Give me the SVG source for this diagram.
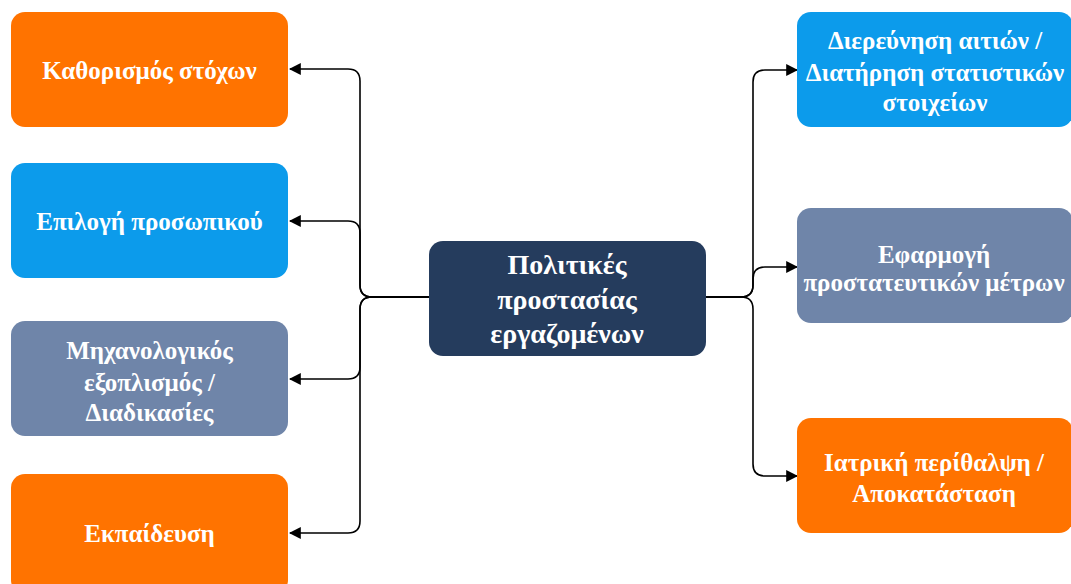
<svg xmlns="http://www.w3.org/2000/svg" width="1071" height="584" viewBox="0 0 1071 584">
<defs>
<style>
.orange{fill:#FF7300}
.blue{fill:#0C9BEB}
.slate{fill:#6F85A9}
.navy{fill:#253C5D}
.t{font-family:"Liberation Serif","DejaVu Serif",serif;font-weight:bold;font-size:25px;fill:#ffffff;text-anchor:middle;dominant-baseline:central}
.tc{font-size:28px}
.c{fill:none;stroke:#000;stroke-width:1.6}
</style>
<marker id="ah" viewBox="0 0 10 10" refX="9" refY="5" markerWidth="12" markerHeight="12" markerUnits="userSpaceOnUse" orient="auto">
<path d="M0,0 L10,5 L0,10 Z" fill="#000"/>
</marker>
</defs>
<rect width="1071" height="584" fill="#ffffff"/>
<g id="connectors">
<path class="c" marker-end="url(#ah)" d="M429,297 L372,297 Q360,297 360,285 L360,81 Q360,69 348,69 L290,69"/>
<path class="c" marker-end="url(#ah)" d="M429,297 L372,297 Q360,297 360,285 L360,233 Q360,221 348,221 L290,221"/>
<path class="c" marker-end="url(#ah)" d="M429,297 L372,297 Q360,297 360,309 L360,367 Q360,379 348,379 L290,379"/>
<path class="c" marker-end="url(#ah)" d="M429,297 L372,297 Q360,297 360,309 L360,521 Q360,533 348,533 L290,533"/>
<path class="c" marker-end="url(#ah)" d="M706,297 L741,297 Q753,297 753,285 L753,82 Q753,70 765,70 L797,70"/>
<path class="c" marker-end="url(#ah)" d="M706,297 L741,297 Q753,297 753,285 L753,279 Q753,267 765,267 L797,267"/>
<path class="c" marker-end="url(#ah)" d="M706,297 L741,297 Q753,297 753,309 L753,464 Q753,476 765,476 L797,476"/>
</g>
<g id="center">
<rect class="navy" x="429" y="241" width="277" height="115" rx="14"/>
<text class="t tc" x="567" y="264">Πολιτικές</text>
<text class="t tc" x="567" y="299">προστασίας</text>
<text class="t tc" x="567" y="333">εργαζομένων</text>
</g>
<g id="n1">
<rect class="orange" x="11" y="12" width="277" height="115" rx="14"/>
<text class="t" x="149.5" y="70">Καθορισμός στόχων</text>
</g>
<g id="n2">
<rect class="blue" x="11" y="163" width="277" height="115" rx="14"/>
<text class="t" x="149.5" y="221">Επιλογή προσωπικού</text>
</g>
<g id="n3">
<rect class="slate" x="11" y="321" width="277" height="115" rx="14"/>
<text class="t" x="149.5" y="350">Μηχανολογικός</text>
<text class="t" x="149.5" y="382">εξοπλισμός /</text>
<text class="t" x="149.5" y="412">Διαδικασίες</text>
</g>
<g id="n4">
<rect class="orange" x="11" y="474" width="277" height="120" rx="14"/>
<text class="t" x="149.5" y="533">Εκπαίδευση</text>
</g>
<g id="n5">
<rect class="blue" x="797" y="12" width="276" height="115" rx="14"/>
<text class="t" x="935" y="40">Διερεύνηση αιτιών /</text>
<text class="t" x="935" y="72">Διατήρηση στατιστικών</text>
<text class="t" x="935" y="102">στοιχείων</text>
</g>
<g id="n6">
<rect class="slate" x="797" y="208" width="276" height="115" rx="14"/>
<text class="t" x="934" y="254">Εφαρμογή</text>
<text class="t" x="934" y="282">προστατευτικών μέτρων</text>
</g>
<g id="n7">
<rect class="orange" x="797" y="418" width="276" height="115" rx="14"/>
<text class="t" x="934" y="462">Ιατρική περίθαλψη /</text>
<text class="t" x="934" y="493">Αποκατάσταση</text>
</g>
</svg>
